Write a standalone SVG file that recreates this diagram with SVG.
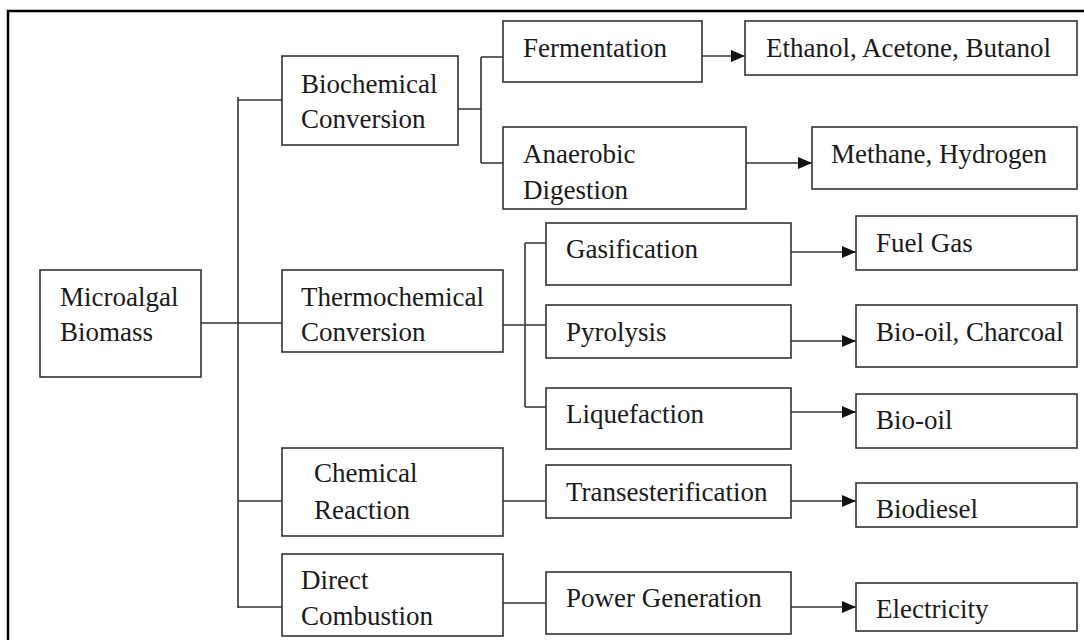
<svg xmlns="http://www.w3.org/2000/svg" width="1084" height="640" viewBox="0 0 1084 640">
<style>
.box{fill:#fff;stroke:#333;stroke-width:1.6}
.t{font-family:"Liberation Serif","Times New Roman",serif;font-size:27px;fill:#1a1a1a}
.c{fill:none;stroke:#333;stroke-width:1.6}
.a{fill:none;stroke:#333;stroke-width:1.6;marker-end:url(#ah)}
</style>
<defs>
<marker id="ah" viewBox="0 0 14 12" refX="14" refY="6" markerWidth="14" markerHeight="12" markerUnits="userSpaceOnUse" orient="auto">
<path d="M0,0 L14,6 L0,12 Z" fill="#111"/>
</marker>
</defs>
<rect x="0" y="0" width="1084" height="640" fill="#fff"/>
<path d="M8,640 V11 H1084" fill="none" stroke="#000" stroke-width="2.5"/>
<g id="connectors">
<path class="c" d="M238,97 V608"/>
<path class="c" d="M238,100 H282"/>
<path class="c" d="M201,323 H282"/>
<path class="c" d="M238,501 H282"/>
<path class="c" d="M238,607 H282"/>
<path class="c" d="M458,109 H481 M481,57 V163 M481,57 H503 M481,163 H503"/>
<path class="c" d="M503,325 H546 M525,243 V407 M525,243 H546 M525,407 H546"/>
<path class="c" d="M503,501 H546"/>
<path class="c" d="M503,603 H546"/>
<path class="a" d="M702,56 H745"/>
<path class="a" d="M746,163 H812"/>
<path class="a" d="M791,252 H856"/>
<path class="a" d="M791,341 H856"/>
<path class="a" d="M791,412 H856"/>
<path class="a" d="M791,501 H856"/>
<path class="a" d="M791,607 H856"/>
</g>
<g id="microalgal"><rect class="box" x="40" y="270" width="161" height="107"/><text class="t" x="60" y="306">Microalgal</text><text class="t" x="60" y="341">Biomass</text></g>
<g id="biochemical"><rect class="box" x="282" y="56" width="176" height="89"/><text class="t" x="301" y="93">Biochemical</text><text class="t" x="301" y="128">Conversion</text></g>
<g id="thermochemical"><rect class="box" x="282" y="270" width="221" height="82"/><text class="t" x="301" y="306">Thermochemical</text><text class="t" x="301" y="341">Conversion</text></g>
<g id="chemical"><rect class="box" x="282" y="448" width="221" height="88"/><text class="t" x="314" y="482">Chemical</text><text class="t" x="314" y="519">Reaction</text></g>
<g id="direct"><rect class="box" x="282" y="554" width="221" height="82"/><text class="t" x="301" y="589">Direct</text><text class="t" x="301" y="625">Combustion</text></g>
<g id="fermentation"><rect class="box" x="503" y="21" width="199" height="61"/><text class="t" x="523" y="57">Fermentation</text></g>
<g id="anaerobic"><rect class="box" x="503" y="127" width="243" height="82"/><text class="t" x="523" y="163">Anaerobic</text><text class="t" x="523" y="199">Digestion</text></g>
<g id="ethanol"><rect class="box" x="745" y="21" width="332" height="54"/><text class="t" x="766" y="57">Ethanol, Acetone, Butanol</text></g>
<g id="methane"><rect class="box" x="812" y="127" width="265" height="62"/><text class="t" x="831" y="163">Methane, Hydrogen</text></g>
<g id="gasification"><rect class="box" x="546" y="223" width="245" height="62"/><text class="t" x="566" y="258">Gasification</text></g>
<g id="fuelgas"><rect class="box" x="856" y="216" width="221" height="54"/><text class="t" x="876" y="252">Fuel Gas</text></g>
<g id="pyrolysis"><rect class="box" x="546" y="305" width="245" height="53"/><text class="t" x="566" y="341">Pyrolysis</text></g>
<g id="biooilcharcoal"><rect class="box" x="856" y="305" width="221" height="62"/><text class="t" x="876" y="341">Bio-oil, Charcoal</text></g>
<g id="liquefaction"><rect class="box" x="546" y="388" width="245" height="61"/><text class="t" x="566" y="423">Liquefaction</text></g>
<g id="biooil"><rect class="box" x="856" y="394" width="221" height="54"/><text class="t" x="876" y="429">Bio-oil</text></g>
<g id="transesterification"><rect class="box" x="546" y="465" width="245" height="53"/><text class="t" x="566" y="501">Transesterification</text></g>
<g id="biodiesel"><rect class="box" x="856" y="483" width="221" height="44"/><text class="t" x="876" y="518">Biodiesel</text></g>
<g id="power"><rect class="box" x="546" y="572" width="245" height="62"/><text class="t" x="566" y="607">Power Generation</text></g>
<g id="electricity"><rect class="box" x="856" y="583" width="221" height="48"/><text class="t" x="876" y="618">Electricity</text></g>
</svg>
